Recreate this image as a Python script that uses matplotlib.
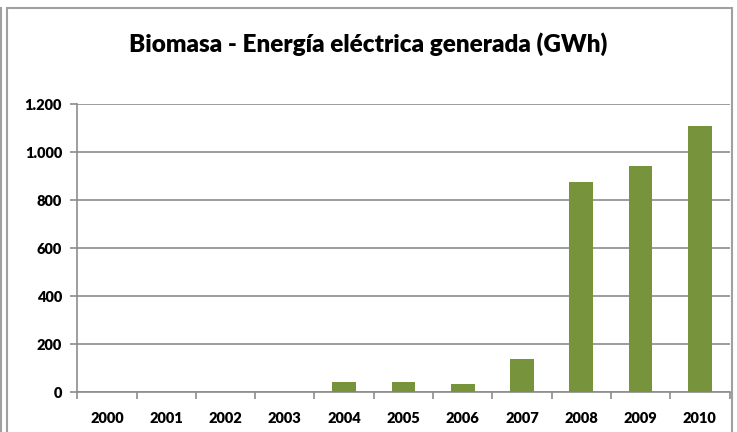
import matplotlib.pyplot as plt
from matplotlib.patches import Rectangle
from matplotlib.lines import Line2D
from matplotlib.ticker import FuncFormatter
import numpy as np

years = ['2000', '2001', '2002', '2003', '2004', '2005', '2006', '2007', '2008', '2009', '2010']
gwh = [0, 0, 0, 0, 44, 44, 33, 139, 876, 943, 1108]

plt.rcParams['font.family'] = ['Lato', 'DejaVu Sans']

W, H = 737, 432
fig = plt.figure(figsize=(W / 100, H / 100), dpi=100)

# chart border (like the excel frame) plus the extra line on the far left
fig.patches.append(Rectangle((7 / W, -0.1), (732 - 7) / W, 1.1 - 8 / H,
                             transform=fig.transFigure, fill=False,
                             edgecolor='#a0a0a0', linewidth=1.5))
fig.lines.append(Line2D([1.5 / W, 1.5 / W], [0, 1 - 8 / H], transform=fig.transFigure,
                        color='#a0a0a0', linewidth=1.5))

ax = fig.add_axes([77.3 / W, 1 - 392.3 / H, (729.5 - 77.3) / W, (392.3 - 104) / H])

x = np.arange(len(years))
ax.bar(x, gwh, width=0.4, color='#77933C', zorder=3)

ax.set_xlim(-0.5, len(years) - 0.5)
ax.set_ylim(0, 1200)
ax.set_yticks(range(0, 1201, 200))
ax.yaxis.set_major_formatter(FuncFormatter(lambda v, p: f'{int(v):,}'.replace(',', '.')))
ax.grid(axis='y', color='#8c8c8c', linewidth=1.2, zorder=0)

ax.set_xticks(x)
ax.set_xticklabels(years)
ax.set_xticks(np.arange(-0.5, len(years)), minor=True)
ax.tick_params(axis='x', which='major', length=0, pad=14, labelsize=10.5)
ax.tick_params(axis='x', which='minor', length=5, color='#8c8c8c', width=1.2)
ax.tick_params(axis='y', length=5, color='#8c8c8c', width=1.2, pad=6, labelsize=10.5)
for lab in ax.get_xticklabels() + ax.get_yticklabels():
    lab.set_fontweight('heavy')

for s in ['top', 'right']:
    ax.spines[s].set_visible(False)
for s in ['left', 'bottom']:
    ax.spines[s].set_color('#8c8c8c')
    ax.spines[s].set_linewidth(1.2)

fig.text(0.5, 1 - 44 / H, 'Biomasa - Energía eléctrica generada (GWh)', ha='center',
         va='center', fontsize=17.5, fontweight='heavy')

fig.savefig('out.png', dpi=100)
